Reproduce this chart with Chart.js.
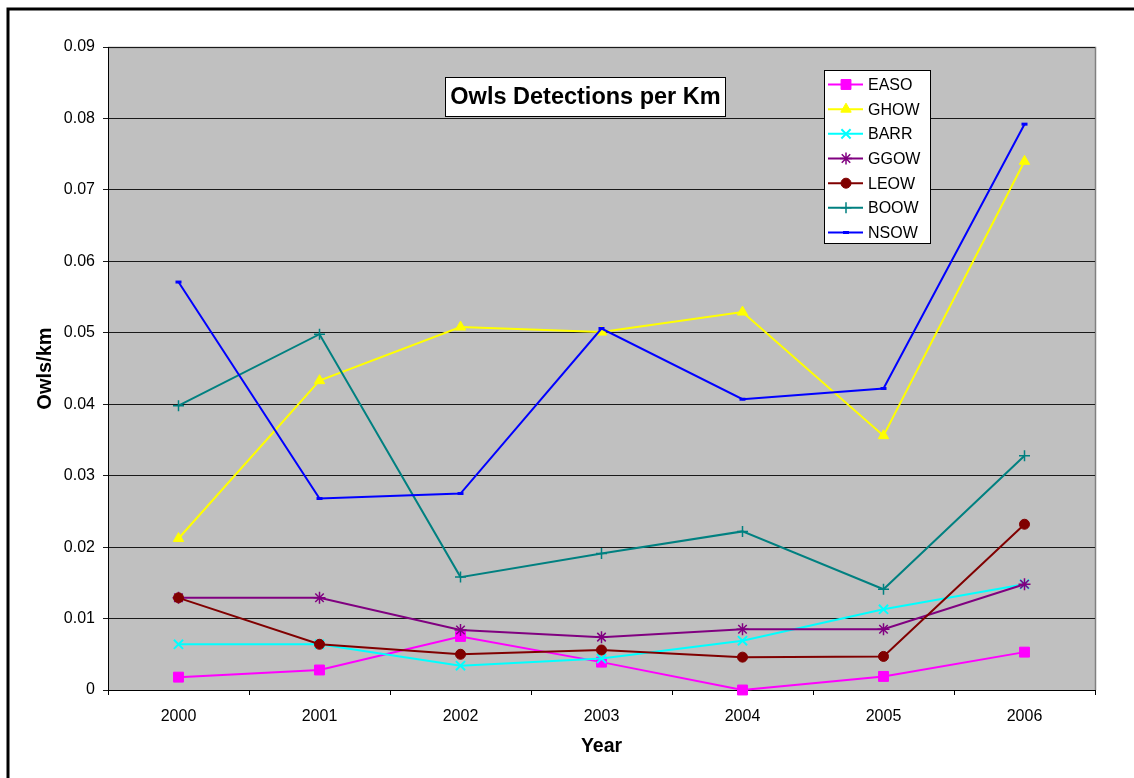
<!DOCTYPE html>
<html>
<head>
<meta charset="utf-8">
<style>
  html, body { margin: 0; padding: 0; background: #ffffff; }
  #wrap { width: 1134px; height: 778px; }
</style>
<script src="https://cdn.jsdelivr.net/npm/chart.js@4.4.1/dist/chart.umd.min.js"></script>
</head>
<body>
<div id="wrap"><canvas id="c" width="1134" height="778"></canvas></div>
<script>
const years = ['2000', '2001', '2002', '2003', '2004', '2005', '2006'];
const yTickLabels = ['0', '0.01', '0.02', '0.03', '0.04', '0.05', '0.06', '0.07', '0.08', '0.09'];
const seriesNames = ['EASO', 'GHOW', 'BARR', 'GGOW', 'LEOW', 'BOOW', 'NSOW'];
const EASO = [0.0018, 0.0028, 0.0075, 0.0039, 0.0000, 0.0019, 0.0053];
const GHOW = [0.0212, 0.0433, 0.0508, 0.0501, 0.0529, 0.0356, 0.0740];
const BARR = [0.0064, 0.0064, 0.0034, 0.0044, 0.0069, 0.0113, 0.0148];
const GGOW = [0.0129, 0.0129, 0.0084, 0.0074, 0.0085, 0.0085, 0.0148];
const LEOW = [0.0129, 0.0064, 0.0050, 0.0056, 0.0046, 0.0047, 0.0232];
const BOOW = [0.0398, 0.0498, 0.0158, 0.0191, 0.0222, 0.0141, 0.0328];
const NSOW = [0.0571, 0.0268, 0.0275, 0.0506, 0.0407, 0.0422, 0.0792];
const chartTitle = 'Owls Detections per Km';
const yTitle = 'Owls/km';
const xTitle = 'Year';

const FONT = '"Liberation Sans", Arial, Helvetica, sans-serif';

const styles = {
  EASO: { color: '#FF00FF', fill: '#FF00FF', pointStyle: 'rect', radius: 7, pbw: 1 },
  GHOW: { color: '#FFFF00', fill: '#FFFF00', pointStyle: 'triangle', radius: 6, pbw: 1 },
  BARR: { color: '#00FFFF', fill: 'rgba(0,0,0,0)', pointStyle: 'crossRot', radius: 6.5, pbw: 2 },
  GGOW: { color: '#800080', fill: 'rgba(0,0,0,0)', pointStyle: 'star', radius: 6, pbw: 1.5 },
  LEOW: { color: '#800000', fill: '#800000', pointStyle: 'circle', radius: 5, pbw: 1 },
  BOOW: { color: '#008080', fill: 'rgba(0,0,0,0)', pointStyle: 'cross', radius: 5.5, pbw: 1.5 },
  NSOW: { color: '#0000FF', fill: '#0000FF', pointStyle: 'line', radius: 3, pbw: 3 }
};
const seriesData = { EASO, GHOW, BARR, GGOW, LEOW, BOOW, NSOW };

const datasets = seriesNames.map((name, i) => {
  const s = styles[name];
  return {
    label: name,
    data: seriesData[name],
    borderColor: s.color,
    backgroundColor: s.fill,
    borderWidth: 2,
    tension: 0,
    pointStyle: s.pointStyle,
    pointRadius: s.radius,
    pointHoverRadius: s.radius,
    pointBorderWidth: s.pbw,
    pointBorderColor: s.color,
    pointBackgroundColor: s.fill,
    clip: false,
    order: seriesNames.length - 1 - i
  };
});

const decorPlugin = {
  id: 'decor',
  beforeDraw(chart) {
    const ctx = chart.ctx;
    const a = chart.chartArea;
    ctx.save();
    // outer frame
    ctx.strokeStyle = '#000000';
    ctx.lineWidth = 3;
    ctx.strokeRect(8, 9, 1150, 800);
    // plot background
    ctx.fillStyle = '#C0C0C0';
    ctx.fillRect(a.left, a.top, a.right - a.left, a.bottom - a.top);
    // plot frame (top and right gray)
    ctx.strokeStyle = '#808080';
    ctx.lineWidth = 1.5;
    ctx.beginPath();
    ctx.moveTo(a.left, a.top + 0.5);
    ctx.lineTo(a.right + 0.5, a.top + 0.5);
    ctx.lineTo(a.right + 0.5, a.bottom);
    ctx.stroke();
    ctx.restore();
  },
  afterDraw(chart) {
    const ctx = chart.ctx;
    ctx.save();
    // title box
    ctx.fillStyle = '#ffffff';
    ctx.fillRect(445, 77, 281, 40);
    ctx.strokeStyle = '#000000';
    ctx.lineWidth = 1;
    ctx.strokeRect(445.5, 77.5, 280, 39);
    ctx.fillStyle = '#000000';
    ctx.font = 'bold 23.5px ' + FONT;
    ctx.textAlign = 'center';
    ctx.textBaseline = 'middle';
    ctx.fillText(chartTitle, 585.5, 98);

    // legend box
    ctx.fillStyle = '#ffffff';
    ctx.fillRect(824, 70, 107, 174);
    ctx.strokeStyle = '#000000';
    ctx.lineWidth = 1;
    ctx.strokeRect(824.5, 70.5, 106, 173);
    ctx.font = '16px ' + FONT;
    ctx.textAlign = 'left';
    ctx.textBaseline = 'middle';
    const drawPoint = Chart.helpers && Chart.helpers.drawPoint;
    chart.data.datasets.forEach((ds, i) => {
      const y = 84.5 + i * 24.67;
      ctx.strokeStyle = ds.borderColor;
      ctx.lineWidth = 2;
      ctx.beginPath();
      ctx.moveTo(828, y);
      ctx.lineTo(863, y);
      ctx.stroke();
      if (drawPoint) {
        ctx.fillStyle = ds.pointBackgroundColor;
        ctx.strokeStyle = ds.pointBorderColor;
        ctx.lineWidth = ds.pointBorderWidth;
        drawPoint(ctx, {
          pointStyle: ds.pointStyle,
          radius: ds.pointRadius,
          rotation: 0,
          borderWidth: ds.pointBorderWidth
        }, 846, y);
      }
      ctx.fillStyle = '#000000';
      ctx.fillText(ds.label, 868, y + 1);
    });
    ctx.restore();
  }
};

new Chart(document.getElementById('c'), {
  type: 'line',
  data: { labels: years, datasets },
  plugins: [decorPlugin],
  options: {
    responsive: false,
    animation: false,
    devicePixelRatio: 1,
    layout: { padding: { left: 0, right: 39, top: 47, bottom: 0 } },
    plugins: {
      legend: { display: false },
      title: { display: false },
      tooltip: { enabled: false }
    },
    scales: {
      x: {
        type: 'category',
        offset: true,
        afterFit(scale) { scale.height = 88; },
        grid: {
          offset: true,
          drawOnChartArea: false,
          drawTicks: true,
          tickLength: 5,
          color: '#000000',
          lineWidth: 1
        },
        border: { display: true, color: '#000000', width: 1 },
        ticks: {
          color: '#000000',
          font: { family: FONT, size: 16 },
          padding: 12,
          maxRotation: 0,
          autoSkip: false
        },
        title: {
          display: true,
          text: xTitle,
          color: '#000000',
          font: { family: FONT, size: 19.5, weight: 'bold' },
          padding: { top: 0, bottom: 20 }
        }
      },
      y: {
        min: 0,
        max: 0.09,
        afterFit(scale) { scale.width = 108; },
        afterBuildTicks(scale) {
          scale.ticks = yTickLabels.map((t) => ({ value: parseFloat(t) }));
        },
        grid: {
          drawOnChartArea: true,
          drawTicks: true,
          tickLength: 5,
          color: '#1a1a1a',
          lineWidth: 1
        },
        border: { display: true, color: '#000000', width: 1 },
        ticks: {
          color: '#000000',
          font: { family: FONT, size: 16 },
          padding: 8,
          callback(value, index) { return yTickLabels[index]; }
        },
        title: {
          display: true,
          text: yTitle,
          color: '#000000',
          font: { family: FONT, size: 20, weight: 'bold' },
          padding: { top: 33, bottom: 0 }
        }
      }
    }
  }
});
</script>
</body>
</html>
